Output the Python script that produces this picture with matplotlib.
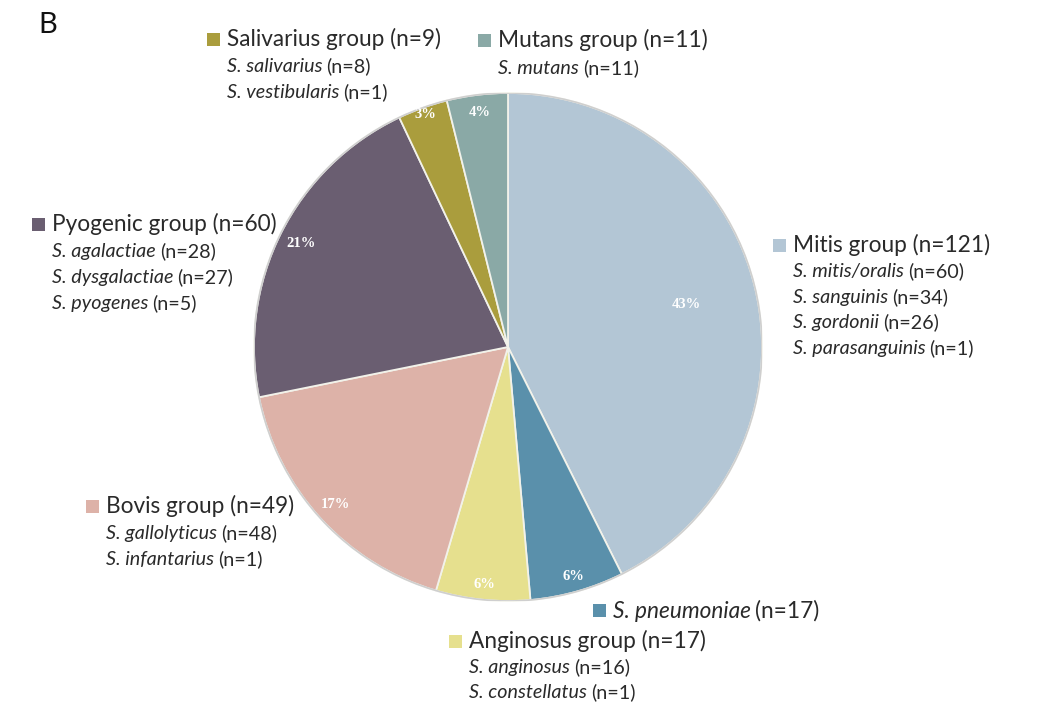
import numpy as np
import matplotlib
matplotlib.use("Agg")
import matplotlib.pyplot as plt
from matplotlib.patches import Rectangle, Circle

# Data (clockwise from 12 o'clock)
groups = ["Mitis group", "S. pneumoniae", "Anginosus group", "Bovis group",
          "Pyogenic group", "Salivarius group", "Mutans group"]
counts = [121, 17, 17, 49, 60, 9, 11]
colors = ["#b3c6d5", "#5a90ab", "#e6e08e", "#ddb2a8",
          "#6a5e71", "#aa9d3d", "#8aa9a6"]

mitis_species = [("S. mitis/oralis", 60), ("S. sanguinis", 34),
                 ("S. gordonii", 26), ("S. parasanguinis", 1)]
anginosus_species = [("S. anginosus", 16), ("S. constellatus", 1)]
bovis_species = [("S. gallolyticus", 48), ("S. infantarius", 1)]
pyogenic_species = [("S. agalactiae", 28), ("S. dysgalactiae", 27), ("S. pyogenes", 5)]
salivarius_species = [("S. salivarius", 8), ("S. vestibularis", 1)]
mutans_species = [("S. mutans", 11)]

W, H = 1038, 707
fig = plt.figure(figsize=(W / 100, H / 100), dpi=100)
FONT = "Lato"
TITLE_FS = 16.3
SP_FS = 14.2
TXT = "#2a2a2a"

# pie axes: centre (508, 347) px, radius 254 px
cx, cy, r = 508, 347, 254
ax = fig.add_axes([(cx - r) / W, (H - cy - r) / H, 2 * r / W, 2 * r / H])
wedges, _, autotexts = ax.pie(
    counts, colors=colors, startangle=90, counterclock=False,
    autopct="%1.0f%%", pctdistance=0.92,
    wedgeprops=dict(edgecolor="#f2f2ea", linewidth=1.3),
    textprops=dict(color="white", fontsize=10.5, family="Liberation Serif",
                   fontweight="bold"),
)
ax.add_patch(Circle((0, 0), 1, fill=False, edgecolor="#cfcfcf", linewidth=1.2))
ax.set_xlim(-1, 1)
ax.set_ylim(-1, 1)
ax.axis("off")

# label radius per slice
label_r = [0.72, 0.94, 0.94, 0.92, 0.91, 0.97, 0.93]
for w, t, lr in zip(wedges, autotexts, label_r):
    ang = np.deg2rad((w.theta1 + w.theta2) / 2)
    t.set_position((lr * np.cos(ang), lr * np.sin(ang)))


def px(x, y):
    return x / W, 1 - y / H


def two_part(x, y, first, second, fs, italic_first=True):
    # y is the visual centre of the line; draw on a shared baseline
    base = y + fs * 0.36 * 100 / 72 * 0.72 * 1.35
    t = fig.text(*px(x, base), first, fontsize=fs, family=FONT,
                 style="italic" if italic_first else "normal",
                 va="baseline", color=TXT)
    fig.canvas.draw()
    bb = t.get_window_extent()
    fig.text(bb.x1 / W + 4 / W, 1 - base / H, second, fontsize=fs,
             family=FONT, va="baseline", color=TXT)


def legend_block(x_sq, y_title, color, title, species, title_italic=False,
                 dy=25.5):
    sq = 13
    fig.patches.append(Rectangle(px(x_sq, y_title + sq / 2 + 0.5), sq / W, sq / H,
                                 transform=fig.transFigure, facecolor=color,
                                 edgecolor="none"))
    xt = x_sq + sq + 7
    if title_italic:
        name, n = title
        two_part(xt, y_title, name, "(n=%d)" % n, TITLE_FS)
    else:
        fig.text(*px(xt, y_title), title, fontsize=TITLE_FS, family=FONT,
                 va="center", color=TXT)
    for i, (sp, n) in enumerate(species):
        y = y_title + dy * (i + 1)
        two_part(xt, y, sp, "(n=%d)" % n, SP_FS)


legend_block(207, 39, colors[5], "Salivarius group (n=%d)" % counts[5],
             salivarius_species, dy=26)
legend_block(478, 40, colors[6], "Mutans group (n=%d)" % counts[6],
             mutans_species, dy=27)
legend_block(773, 245, colors[0], "Mitis group (n=%d)" % counts[0],
             mitis_species)
legend_block(32, 224, colors[4], "Pyogenic group (n=%d)" % counts[4],
             pyogenic_species, dy=26)
legend_block(86, 506, colors[3], "Bovis group (n=%d)" % counts[3],
             bovis_species, dy=26)
legend_block(593, 610, colors[1], ("S. pneumoniae", counts[1]), [],
             title_italic=True)
legend_block(449, 641, colors[2], "Anginosus group (n=%d)" % counts[2],
             anginosus_species, dy=25)

fig.text(*px(38, 25), "B", fontsize=21, family=FONT, va="center", color="#111111")

fig.savefig("out.png", dpi=100, facecolor="white")
